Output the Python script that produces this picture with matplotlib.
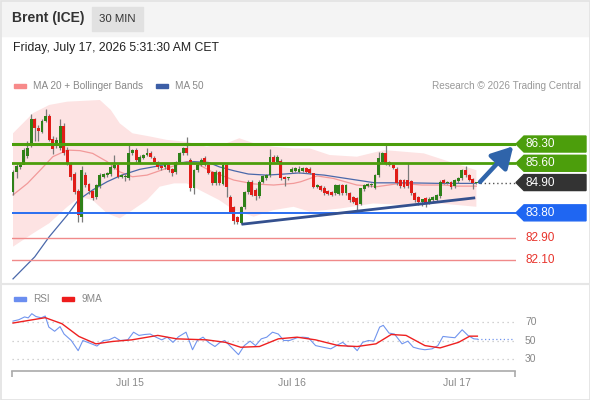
import numpy as np
import matplotlib
matplotlib.use("Agg")
import matplotlib.pyplot as plt
from matplotlib.patches import Rectangle, Polygon

plt.rcParams['font.family'] = ['Liberation Sans', 'DejaVu Sans']

# --- candles (30 min) ---
opens = [84.55, 85.30, 85.47, 85.55, 85.85, 86.30, 87.20, 86.90, 86.75, 87.14,
         87.33, 86.50, 86.26, 86.15, 86.95, 86.10, 85.60, 85.20, 84.60, 83.65,
         85.17, 84.85, 84.58, 84.38, 84.78, 85.12, 85.16, 85.20, 85.42, 85.53,
         85.10, 85.10, 85.06, 85.97, 86.08, 85.62, 85.80, 85.90, 85.98, 85.81,
         85.66, 85.50, 85.45, 85.54, 85.38, 85.28, 85.66, 85.96, 86.14, 85.72,
         84.70, 85.35, 85.54, 85.78, 85.54, 85.29, 84.87, 85.29, 84.85, 85.54,
         84.38, 84.00, 83.66, 83.44, 84.02, 84.57, 84.93, 84.63, 84.40, 84.93,
         85.05, 85.17, 85.84, 85.66, 85.70, 85.10, 85.05, 85.28, 85.33, 85.30,
         85.32, 85.42, 85.40, 85.23, 84.75, 84.77, 84.72, 84.60, 84.57, 84.51,
         84.50, 84.81, 84.51, 84.51, 84.38, 84.33, 84.12, 84.66, 84.78, 84.80,
         84.69, 85.17, 85.66, 85.96, 85.66, 85.54, 85.41, 84.99, 84.98, 84.98,
         84.97, 84.51, 84.38, 84.20, 84.33, 84.20, 84.26, 84.26, 84.40, 84.99,
         84.88, 84.93, 84.76, 84.95, 85.05, 85.35, 85.17, 85.02, 84.88]
closes = [85.30, 85.50, 85.55, 86.10, 86.15, 87.20, 86.90, 86.78, 87.14, 87.33,
          86.45, 86.12, 86.45, 86.95, 85.96, 85.60, 85.11, 84.57, 83.72, 85.35,
          84.81, 84.60, 84.35, 84.80, 85.17, 85.20, 85.24, 85.47, 85.54, 85.11,
          85.17, 85.15, 85.97, 86.08, 85.72, 85.84, 85.90, 85.98, 85.82, 85.66,
          85.47, 85.42, 85.56, 85.35, 85.25, 85.66, 85.96, 86.14, 85.96, 84.72,
          85.35, 85.54, 85.72, 85.54, 85.23, 84.87, 85.29, 84.87, 85.54, 84.75,
          83.84, 83.50, 83.45, 84.02, 84.57, 84.93, 84.45, 84.40, 84.93, 85.14,
          85.17, 85.84, 85.66, 85.84, 85.05, 85.02, 85.09, 85.41, 85.42, 85.41,
          85.42, 85.30, 85.25, 84.75, 84.80, 84.63, 84.51, 84.48, 84.45, 84.81,
          84.81, 84.51, 84.81, 84.26, 84.20, 84.08, 84.69, 84.81, 84.84, 84.84,
          85.17, 85.78, 85.96, 85.60, 85.54, 85.42, 84.87, 84.77, 84.75, 84.78,
          84.51, 84.26, 84.20, 84.29, 84.15, 84.32, 84.38, 84.45, 84.93, 84.89,
          84.92, 84.73, 84.99, 85.05, 85.35, 85.17, 84.99, 84.87, 84.90]
highs = [85.35, 85.62, 85.60, 86.15, 86.40, 87.40, 87.25, 87.00, 87.20, 87.56,
         87.40, 86.60, 86.55, 87.20, 87.05, 86.20, 85.65, 85.30, 84.65, 85.50,
         85.30, 84.90, 84.62, 84.85, 85.25, 85.25, 85.30, 85.55, 85.90, 85.58,
         85.22, 85.20, 86.35, 86.12, 86.15, 85.90, 85.95, 86.16, 86.05, 85.85,
         85.70, 85.55, 85.60, 85.58, 85.42, 85.70, 86.00, 86.20, 86.54, 85.80,
         85.40, 85.58, 85.80, 85.85, 85.58, 85.32, 85.35, 85.32, 85.60, 85.58,
         84.45, 84.05, 83.70, 84.05, 84.60, 85.00, 84.98, 84.70, 84.98, 85.18,
         85.22, 86.11, 85.90, 85.90, 85.75, 85.15, 85.12, 85.45, 85.48, 85.50,
         85.48, 85.46, 85.45, 85.26, 84.85, 84.82, 84.78, 84.64, 84.60, 84.85,
         84.86, 84.85, 84.85, 84.56, 84.42, 84.36, 84.72, 84.85, 84.90, 84.88,
         85.20, 86.02, 86.00, 86.32, 85.70, 85.58, 85.45, 85.02, 85.02, 85.60,
         85.00, 84.55, 84.42, 84.32, 84.36, 84.36, 84.42, 84.48, 84.98, 85.03,
         84.96, 84.96, 85.02, 85.10, 85.40, 85.50, 85.20, 85.05, 84.93]
lows = [84.45, 85.05, 85.40, 85.60, 85.80, 86.20, 86.40, 86.40, 86.70, 87.10,
        86.40, 85.93, 86.15, 86.10, 85.90, 85.55, 85.00, 84.50, 83.47, 83.45,
        84.75, 84.50, 84.25, 84.30, 84.70, 85.05, 85.10, 85.15, 85.38, 85.05,
        85.05, 84.95, 84.98, 85.90, 85.65, 85.58, 85.75, 85.85, 85.78, 85.60,
        85.40, 85.35, 85.40, 85.30, 85.15, 85.20, 85.60, 85.90, 85.90, 84.60,
        84.50, 85.30, 85.50, 85.50, 85.20, 84.80, 84.80, 84.80, 84.80, 84.38,
        83.80, 83.40, 83.40, 83.40, 83.95, 84.50, 84.40, 84.25, 84.35, 84.90,
        85.00, 85.10, 85.60, 85.60, 85.00, 84.77, 85.00, 85.25, 85.30, 85.25,
        85.28, 85.26, 85.20, 84.70, 84.70, 84.58, 84.45, 84.44, 84.40, 84.45,
        84.45, 84.45, 84.45, 84.20, 84.15, 83.90, 84.08, 84.60, 84.75, 84.75,
        84.65, 85.12, 85.60, 85.55, 85.50, 85.38, 84.80, 84.70, 84.70, 84.70,
        84.45, 84.20, 84.10, 84.05, 84.00, 84.12, 84.20, 84.22, 84.35, 84.85,
        84.85, 84.68, 84.72, 84.90, 85.00, 85.12, 84.95, 84.65, 84.85]

# overlays, sampled at candle index
ma50_idx = [0, 6, 10, 15, 18, 22, 26, 30, 35, 40, 44, 50, 54, 57, 61, 65, 70, 75, 79, 86, 95, 100, 109, 118, 128]
ma50 = [81.40, 82.20, 82.93, 83.72, 84.26, 84.63, 84.93, 85.17, 85.38, 85.50, 85.60, 85.66, 85.63,
        85.47, 85.33, 85.21, 85.17, 85.21, 85.25, 85.17, 84.99, 84.89, 84.89, 84.87, 84.87]
ma20_idx = [0, 4, 7.5, 11, 15, 18.5, 22, 26, 29.5, 33, 37, 42.5, 48, 51.5, 55, 61, 66.5, 72, 77.5,
            79.5, 84, 88.5, 95, 100.5, 107, 113, 119, 122.5, 128]
ma20 = [84.45, 84.87, 85.35, 85.84, 86.08, 86.06, 85.96, 85.66, 85.29, 85.11, 85.17, 85.42, 85.66,
        85.54, 85.29, 84.99, 84.85, 84.81, 84.87, 84.93, 85.14, 85.05, 84.81, 84.75, 84.87, 84.81,
        84.81, 84.77, 84.77]
bb_up_idx = [0, 5.5, 10, 15, 24, 27, 29.5, 33, 38, 42.5, 48, 53.5, 59, 62.5, 66.5, 72, 77.5, 82,
             87.5, 95, 102.5, 113.5, 120.5, 128]
bb_up = [86.69, 87.42, 87.72, 87.84, 87.90, 87.54, 87.05, 86.69, 86.57, 86.45, 86.38, 86.20, 86.33,
         86.51, 86.33, 86.20, 86.14, 86.14, 85.90, 85.84, 86.08, 85.96, 85.66, 85.35]
bb_lo_idx = [0, 5.5, 10, 15, 18.5, 22, 26, 29.5, 33, 37, 40.5, 44.5, 48, 51.5, 57, 61, 66.5, 72,
             77.5, 82, 90.5, 99.5, 109, 118, 128]
bb_lo = [82.57, 83.05, 83.42, 84.02, 84.38, 84.26, 83.78, 83.60, 83.90, 84.26, 84.75, 84.87, 84.87,
         84.63, 84.26, 83.90, 83.66, 83.90, 84.02, 83.84, 83.96, 84.14, 84.08, 84.14, 84.02]

trend_idx = [63.5, 127.3]
trend_val = [83.39, 84.34]
arrow_from = (129.0, 84.92)
arrow_to = (138.2, 86.22)
last_price = 84.90

levels = [86.30, 85.60, 84.90, 83.80, 82.90, 82.10]
level_labels = ["86.30", "85.60", "84.90", "83.80", "82.90", "82.10"]

# RSI panel
rsi_idx = [0, 1.6, 3.2, 4.2, 5.2, 6.3, 7.8, 8.9, 9.9, 11.5, 13, 14.1, 16.1, 18, 19.3, 21.3, 23.2,
           25, 26.5, 28.1, 29.6, 31.7, 33.3, 34.8, 36.4, 37.9, 39.5, 41.1, 42.6, 44.2, 45.7, 47.8,
           49.6, 50.9, 52.5, 54, 55.8, 57.2, 58.5, 60.3, 62.3, 63.9, 65.5, 67, 68.6, 70.1, 71.7,
           73.3, 74.8, 76.4, 78.5, 80, 81.6, 83.6, 85.7, 87.8, 89.9, 91.1, 92.5, 94, 95.1, 96.6,
           98.2, 99.7, 101.3, 102.3, 103.9, 105.4, 107.5, 109.1, 110.6, 112.2, 113.8, 115.8,
           117.4, 118.8, 120.5, 122.1, 124.1, 125.7, 127.3, 128.3]
rsi = [71, 72.5, 75.5, 74.5, 79, 76, 74.5, 76.5, 64.5, 60, 65, 57, 50, 39, 50, 47, 44, 50, 50.7,
       53.6, 50, 50.7, 59, 55.5, 56.5, 57, 53.6, 50.7, 53.6, 48, 54, 59, 40, 50, 53.6, 48, 43.5,
       48, 50, 42.7, 34.7, 44.5, 49.3, 44.5, 51.8, 53.6, 59, 57, 50, 50, 53, 53.6, 53, 44.5,
       42.7, 41, 45.6, 48, 43.5, 43.5, 39, 48, 50, 49.3, 64.5, 66.4, 58, 57, 46.4, 49.3, 42.7,
       41, 40, 41, 44.5, 54.4, 53.6, 53, 61.6, 55.5, 51.8, 51.5]
ma9_idx = [0, 8.9, 13.5, 18.2, 22.9, 27.6, 32.8, 40, 45.2, 53.5, 58.7, 62.9, 68.1, 73.3, 78.5,
           83.6, 89.9, 95.1, 100.3, 104.5, 108.6, 113.8, 118, 123.1, 126.2, 128.3]
ma9 = [68.9, 74.7, 68.2, 54.4, 46.4, 49, 50.7, 55.5, 51.8, 50.7, 48, 42.7, 43.5, 51.8, 53.6, 50.7,
       44.5, 43.5, 46.4, 56.5, 55.5, 44.5, 42, 48, 54.7, 54.7]
rsi_levels = [70, 50, 30]
day_ticks = [32.2, 77.0, 122.7]
day_labels = ["Jul 15", "Jul 16", "Jul 17"]

GREEN = "#2f8119"
RED = "#e01d18"
LVL_GREEN = "#4c9e0c"
BLUE = "#2a6ef0"
GREY_TXT = "#888888"

W, H = 590, 400
fig = plt.figure(figsize=(W / 100, H / 100), dpi=100)

# overlay in pixel units (origin bottom left)
bg = fig.add_axes([0, 0, 1, 1])
bg.set_xlim(0, W)
bg.set_ylim(0, H)
bg.axis("off")
bg.add_patch(Rectangle((0, H - 36), W, 36, color="#f4f4f4", zorder=0))
bg.add_patch(Rectangle((92, H - 31), 51, 24, color="#e1e1e1", zorder=1))
bg.add_patch(Rectangle((0.5, 0.5), W - 1, H - 1, fill=False, ec="#e2e2e2", lw=1.2))
bg.plot([0, W], [H - 284, H - 284], color="#e6e6e6", lw=1.5)
bg.text(12, H - 18, "Brent (ICE)", fontsize=10, fontweight="bold", color="#333333", va="center")
bg.text(117.5, H - 19, "30 MIN", fontsize=8.2, color="#333333", va="center", ha="center")
bg.text(13, H - 48, "Friday, July 17, 2026 5:31:30 AM CET", fontsize=8.8, color="#222222", va="center")

# legends
bg.add_patch(Rectangle((14, H - 88), 12, 4, color="#f78a8a"))
bg.text(33, H - 86, "MA 20 + Bollinger Bands", fontsize=7.2, color=GREY_TXT, va="center")
bg.add_patch(Rectangle((156, H - 88), 12, 4, color="#3c5ea6"))
bg.text(175, H - 86, "MA 50", fontsize=7.2, color=GREY_TXT, va="center")
bg.text(581, H - 86, "Research \u00a9 2026 Trading Central", fontsize=7.2, color="#999999",
        va="center", ha="right")
bg.add_patch(Rectangle((14, H - 301), 12, 4, color="#6b8ef0"))
bg.text(33, H - 299, "RSI", fontsize=7.2, color=GREY_TXT, va="center")
bg.add_patch(Rectangle((62, H - 301), 12, 4, color="#ee1c1c"))
bg.text(82, H - 299, "9MA", fontsize=7.2, color=GREY_TXT, va="center")

# main price axes
x0, x1 = -0.28, 138.95
ax = fig.add_axes([12 / W, 1 - 283 / H, 504 / W, 183 / H])
ax.set_xlim(x0, x1)
ax.set_ylim(81.25, 87.9)
ax.axis("off")

ax.fill(np.concatenate([bb_up_idx, bb_lo_idx[::-1]]), np.concatenate([bb_up, bb_lo[::-1]]),
        color="#fde3e3", lw=0, zorder=1)
ax.plot(ma20_idx, ma20, color="#f29a9a", lw=0.9, zorder=2)
ax.plot(ma50_idx, ma50, color="#4a68aa", lw=0.9, zorder=2)

idx = np.arange(len(closes))
for i in idx:
    o, c = opens[i], closes[i]
    col = GREEN if c >= o else RED
    ax.vlines(i, lows[i], highs[i], color="#7a7a7a", lw=0.9, zorder=3)
    ax.bar(i, max(abs(c - o), 0.04), bottom=min(o, c), width=0.8, color=col, lw=0, zorder=4)

ax.axhline(levels[0], color=LVL_GREEN, lw=2.2, zorder=5)
ax.axhline(levels[1], color=LVL_GREEN, lw=2.0, zorder=5)
ax.axhline(levels[3], color=BLUE, lw=1.4, zorder=5)
ax.axhline(levels[4], color="#f08a8a", lw=1.0, zorder=5)
ax.axhline(levels[5], color="#f08a8a", lw=1.0, zorder=5)
ax.plot(trend_idx, trend_val, color="#34508e", lw=2.0, zorder=6)
ax.plot([arrow_from[0], x1], [last_price, last_price], color="#555555", lw=1.0,
        linestyle=(0, (1, 2)), zorder=6)
ax.annotate("", xy=arrow_to, xytext=arrow_from,
            arrowprops=dict(arrowstyle="-|>,head_length=0.8,head_width=0.45", lw=3.2,
                            color="#2f64aa", shrinkA=0, shrinkB=0, mutation_scale=16), zorder=7)

# price labels on the right
box_cols = {0: LVL_GREEN, 1: LVL_GREEN, 2: "#333333", 3: "#1f66f2"}
for k, (lv, lab) in enumerate(zip(levels, level_labels)):
    ypx = ax.transData.transform((0, lv))[1]
    if k in box_cols:
        bg.add_patch(Polygon([(516, ypx), (524, ypx + 8), (586, ypx + 8), (586, ypx - 8), (524, ypx - 8)],
                             closed=True, color=box_cols[k], zorder=5))
        bg.text(525, ypx, lab, fontsize=8.5, color="white", va="center", zorder=6)
    else:
        bg.text(525, ypx, lab, fontsize=8.5, color="#e8332b", va="center")

# RSI axes
rax = fig.add_axes([12 / W, 1 - 371 / H, 503 / W, 61 / H])
rax.set_xlim(x0, 138.7)
rax.set_ylim(17, 83)
for s in ["top", "left", "right"]:
    rax.spines[s].set_visible(False)
rax.spines["bottom"].set_color("#aaaaaa")
rax.spines["bottom"].set_linewidth(1.2)
rax.set_yticks([])
rax.set_xticks(day_ticks)
rax.set_xticklabels(day_labels, fontsize=7.5, color=GREY_TXT)
rax.tick_params(axis="x", length=0, pad=5)
for v in rsi_levels:
    rax.axhline(v, color="#c4c4c4", lw=0.9, linestyle=(0, (1, 3)))
    ypx = rax.transData.transform((0, v))[1]
    bg.text(525, ypx, str(v), fontsize=7.5, color=GREY_TXT, va="center")
rax.vlines([x0, 138.7], 17 - 6, 17, color="#aaaaaa", lw=1.2, clip_on=False)
rax.plot(rsi_idx, rsi, color="#7195ee", lw=0.8)
rax.plot([rsi_idx[-1], 138.7], [rsi[-1], rsi[-1]], color="#7195ee", lw=0.9, linestyle=(0, (1, 2)))
rax.plot(ma9_idx, ma9, color="#ee2020", lw=1.0)

fig.savefig("out.png", dpi=100)
